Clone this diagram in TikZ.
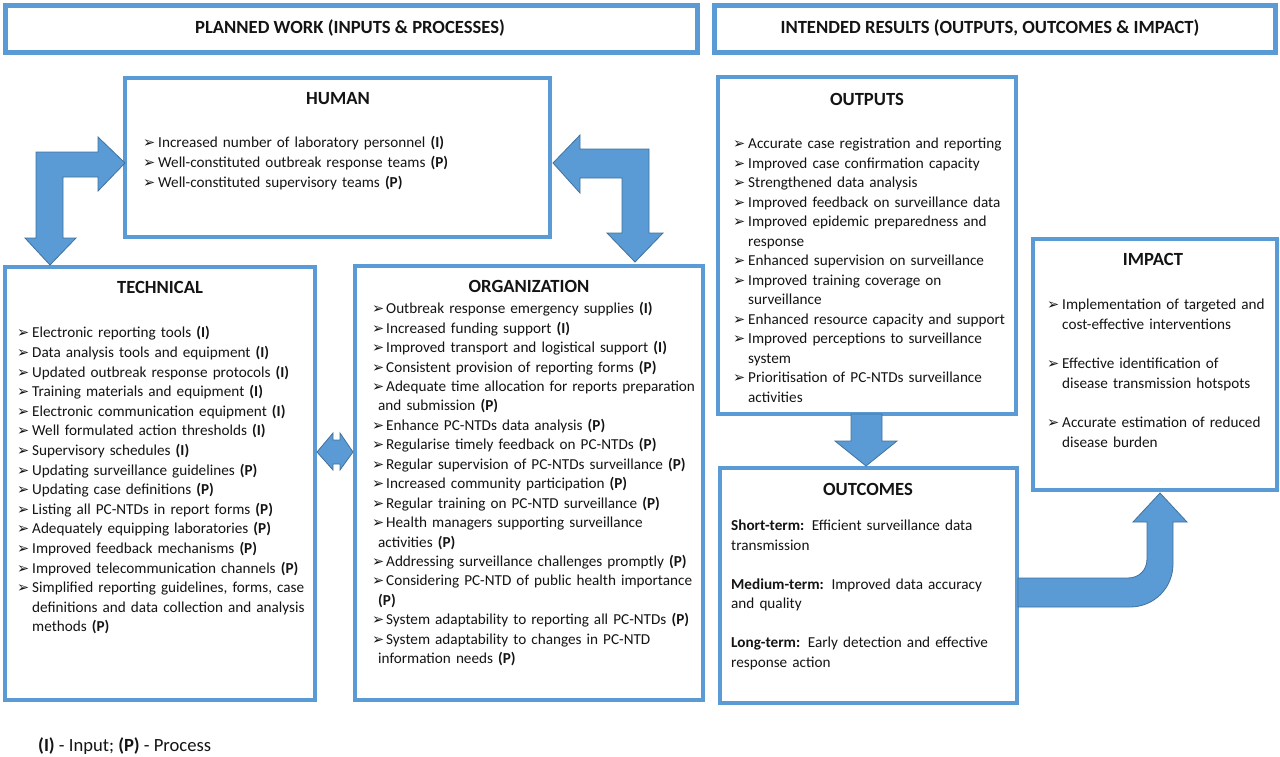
\documentclass[tikz,border=0pt]{standalone}
\usepackage{fontspec}
\setmainfont{Carlito}
\newfontfamily\bulfont{DejaVu Sans}
\definecolor{boxblue}{RGB}{91,155,213}
\definecolor{arrowline}{RGB}{65,113,156}
\definecolor{txtcol}{RGB}{20,20,20}
\newcommand{\bulsym}{{\bulfont\fontsize{14.5}{14.5}\selectfont ➢}}
\newcommand{\bitem}[1]{\par\noindent\hangindent=15pt\hangafter=1\rule{0pt}{14pt}\hbox to 15pt{\bulsym\hfil}#1}
\newcommand{\oitem}[1]{\par\noindent\hangindent=6pt\hangafter=1\rule{0pt}{14pt}\hbox to 14pt{\bulsym\hfil}#1}
\newcommand{\pitem}[1]{\par\noindent\rule{0pt}{14pt}#1}
\newcommand{\blankgap}{\par\vspace{\baselineskip}}
\newcommand{\bb}[1]{\textbf{#1}}
\begin{document}
\begin{tikzpicture}[x=1pt,y=-1pt,
  hdr/.style={draw=boxblue, line width=5pt, fill=white, inner sep=0, rectangle},
  box/.style={draw=boxblue, line width=3.5pt, fill=white, inner sep=0, rectangle},
  titlef/.style={anchor=base, inner sep=0, text=txtcol, font=\bfseries\fontsize{18.6}{20}\selectfont},
  txt/.style={anchor=north west, inner sep=0, text width=330pt, align=left, text=txtcol},
  blockarrow/.style={fill=boxblue, draw=arrowline, line width=0.8pt, line join=miter}]
\useasboundingbox (0,0) rectangle (1280,756);

% header boxes
\node[hdr, minimum width=692pt, minimum height=47pt] (h1) at (351,28.5) {};
\node[hdr, minimum width=561pt, minimum height=47pt] (h2) at (994.5,28.5) {};
\node[titlef] (h1t) at (350,33.5) {PLANNED WORK (INPUTS \& PROCESSES)};
\node[titlef] (h2t) at (990,33.5) {INTENDED RESULTS (OUTPUTS, OUTCOMES \& IMPACT)};

% boxes
\node[box, minimum width=425pt, minimum height=159pt] (human) at (337.5,157.5) {};
\node[box, minimum width=310pt, minimum height=433pt] (tech) at (160,483.5) {};
\node[box, minimum width=348pt, minimum height=434pt] (org) at (529,483) {};
\node[box, minimum width=298pt, minimum height=337pt] (outp) at (867,245.5) {};
\node[box, minimum width=297pt, minimum height=235pt] (outc) at (868.5,585.5) {};
\node[box, minimum width=244pt, minimum height=251pt] (imp) at (1155,364.5) {};

% titles
\node[titlef] (humt) at (338,104) {HUMAN};
\node[titlef] (techt) at (160,293) {TECHNICAL};
\node[titlef] (orgt) at (529,292) {ORGANIZATION};
\node[titlef] (outpt) at (867,105) {OUTPUTS};
\node[titlef] (outct) at (868,495) {OUTCOMES};
\node[titlef] (impt) at (1153,265) {IMPACT};

% texts
\node[txt, font=\fontsize{15.2}{20}\selectfont] (humx) at (143,127) {%
\bitem{Increased number of laboratory personnel \bb{(I)}}%
\bitem{Well-constituted outbreak response teams \bb{(P)}}%
\bitem{Well-constituted supervisory teams \bb{(P)}}\par};

\node[txt, font=\fontsize{15.2}{19.6}\selectfont] (techx) at (17,318) {%
\bitem{Electronic reporting tools \bb{(I)}}%
\bitem{Data analysis tools and equipment \bb{(I)}}%
\bitem{Updated outbreak response protocols \bb{(I)}}%
\bitem{Training materials and equipment \bb{(I)}}%
\bitem{Electronic communication equipment \bb{(I)}}%
\bitem{Well formulated action thresholds \bb{(I)}}%
\bitem{Supervisory schedules \bb{(I)}}%
\bitem{Updating surveillance guidelines \bb{(P)}}%
\bitem{Updating case definitions \bb{(P)}}%
\bitem{Listing all PC-NTDs in report forms \bb{(P)}}%
\bitem{Adequately equipping laboratories \bb{(P)}}%
\bitem{Improved feedback mechanisms \bb{(P)}}%
\bitem{Improved telecommunication channels \bb{(P)}}%
\bitem{Simplified reporting guidelines, forms, case\newline definitions and data collection and analysis\newline methods \bb{(P)}}\par};

\node[txt, font=\fontsize{15.2}{19.45}\selectfont] (orgx) at (372,294) {%
\oitem{Outbreak response emergency supplies \bb{(I)}}%
\oitem{Increased funding support \bb{(I)}}%
\oitem{Improved transport and logistical support \bb{(I)}}%
\oitem{Consistent provision of reporting forms \bb{(P)}}%
\oitem{Adequate time allocation for reports preparation\newline and submission \bb{(P)}}%
\oitem{Enhance PC-NTDs data analysis \bb{(P)}}%
\oitem{Regularise timely feedback on PC-NTDs \bb{(P)}}%
\oitem{Regular supervision of PC-NTDs surveillance \bb{(P)}}%
\oitem{Increased community participation \bb{(P)}}%
\oitem{Regular training on PC-NTD surveillance \bb{(P)}}%
\oitem{Health managers supporting surveillance\newline activities \bb{(P)}}%
\oitem{Addressing surveillance challenges promptly \bb{(P)}}%
\oitem{Considering PC-NTD of public health importance\newline \bb{(P)}}%
\oitem{System adaptability to reporting all PC-NTDs \bb{(P)}}%
\oitem{System adaptability to changes in PC-NTD\newline information needs \bb{(P)}}\par};

\node[txt, font=\fontsize{15.2}{19.5}\selectfont] (outpx) at (733,129) {%
\bitem{Accurate case registration and reporting}%
\bitem{Improved case confirmation capacity}%
\bitem{Strengthened data analysis}%
\bitem{Improved feedback on surveillance data}%
\bitem{Improved epidemic preparedness and\newline response}%
\bitem{Enhanced supervision on surveillance}%
\bitem{Improved training coverage on\newline surveillance}%
\bitem{Enhanced resource capacity and support}%
\bitem{Improved perceptions to surveillance\newline system}%
\bitem{Prioritisation of PC-NTDs surveillance\newline activities}\par};

\node[txt, font=\fontsize{15.2}{19.6}\selectfont] (impx) at (1047,290) {%
\bitem{Implementation of targeted and\newline cost-effective interventions}\blankgap
\bitem{Effective identification of\newline disease transmission hotspots}\blankgap
\bitem{Accurate estimation of reduced\newline disease burden}\par};

\node[txt, font=\fontsize{15.2}{19.5}\selectfont] (outcx) at (731,511) {%
\pitem{\bb{Short-term:} Efficient surveillance data\newline transmission}\blankgap
\pitem{\bb{Medium-term:} Improved data accuracy\newline and quality}\blankgap
\pitem{\bb{Long-term:} Early detection and effective\newline response action}\par};

\node[anchor=base west, inner sep=0, text=txtcol, font=\fontsize{18.6}{20}\selectfont] (legend) at (38,751) {\bb{(I)} - Input; \bb{(P)} - Process};

% block arrows
\draw[blockarrow] (125,163) -- (98,137) -- (98,152) -- (36,152) -- (36,238) -- (25,238) -- (50,265) -- (76,238) -- (63,238) -- (63,177) -- (98,177) -- (98,191) -- cycle;
\draw[blockarrow] (553,163) -- (580,135) -- (580,149) -- (649,149) -- (649,233) -- (663,233) -- (635,262) -- (607,233) -- (622,233) -- (622,178) -- (580,178) -- (580,193) -- cycle;
\draw[blockarrow] (317,452) -- (333,433) -- (333,440) -- (340,440) -- (340,433) -- (353,452) -- (340,470) -- (340,464) -- (333,464) -- (333,470) -- cycle;
\draw[blockarrow] (851,414) -- (882,414) -- (882,441) -- (897,441) -- (866,466) -- (835,441) -- (851,441) -- cycle;
\draw[blockarrow] (1018,578) -- (1128,578) .. controls (1139,578) and (1147,570) .. (1147,559) -- (1147,522) -- (1133,522) -- (1160,493) -- (1187,522) -- (1173,522) -- (1173,564) .. controls (1173,588) and (1154,607) .. (1130,607) -- (1018,607) -- cycle;
\end{tikzpicture}
\end{document}
